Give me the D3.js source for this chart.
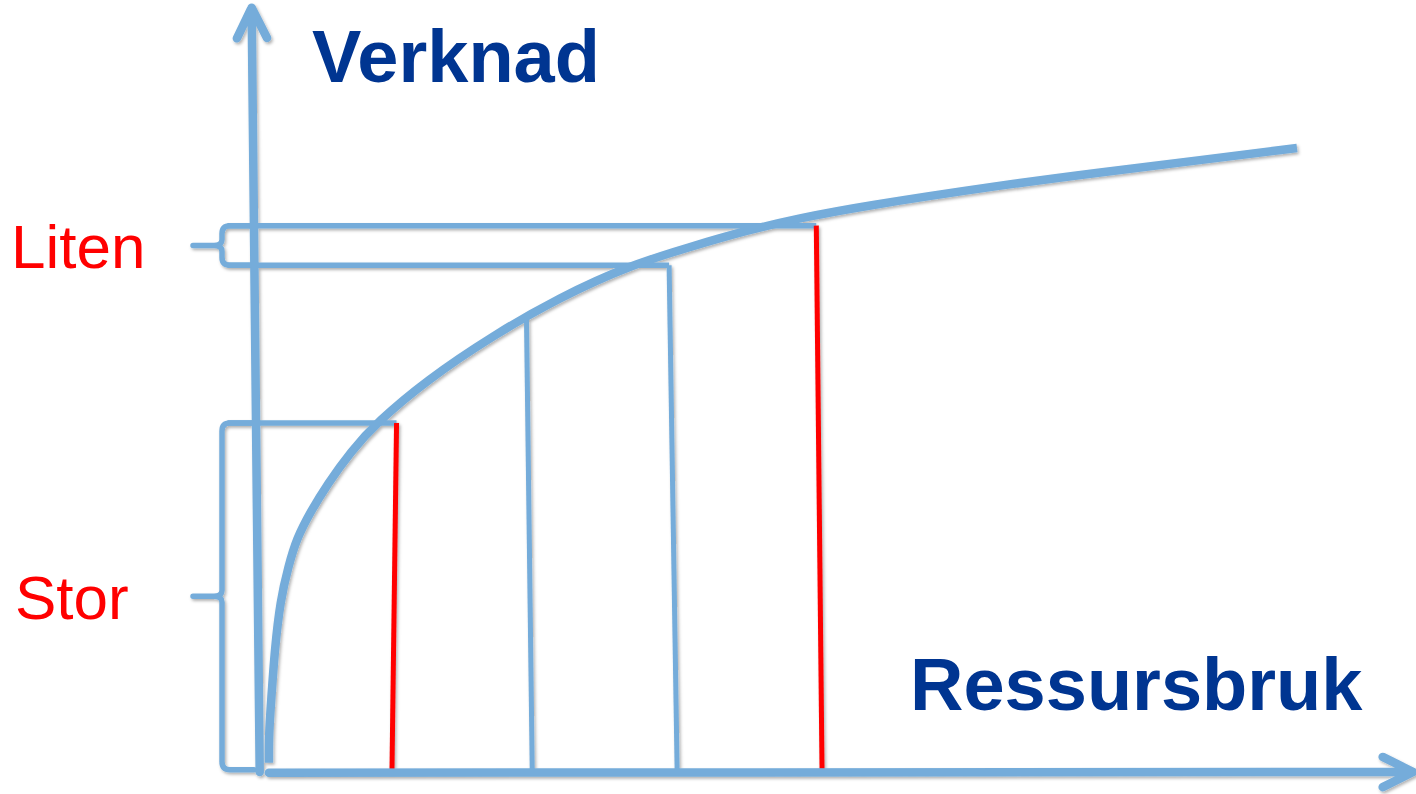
<!DOCTYPE html>
<html>
<head>
<meta charset="utf-8">
<script src="https://cdn.jsdelivr.net/npm/d3@7"></script>
<style>
  html, body { margin: 0; padding: 0; background: #fff; }
  svg { display: block; }
</style>
</head>
<body>
<div id="chart"></div>
<script>
// data (resource use on x, effect on y, both 0..10)
var curveX = [0.06, 0.06, 0.08, 0.11, 0.16, 0.23, 0.30, 0.42, 0.57, 0.77, 1.00, 1.43, 2.01, 2.59, 3.20, 3.72, 4.22, 4.68, 5.20, 6.42, 7.29, 8.16, 9.00];
var curveY = [0.12, 0.50, 0.94, 1.60, 2.26, 2.70, 3.06, 3.41, 3.78, 4.20, 4.59, 5.14, 5.73, 6.23, 6.65, 6.89, 7.11, 7.27, 7.42, 7.70, 7.87, 8.03, 8.19];

// drop lines: x at top, x at bottom, y at top
var dropName = ["a", "b", "c", "d"];
var dropXTop = [1.17, 2.30, 3.54, 4.82];
var dropXBot = [1.13, 2.35, 3.61, 4.87];
var dropYTop = [4.58, 5.93, 6.65, 7.17];
var dropRed  = [true, false, false, true];

// horizontal guides: y level, ends at drop line index
var guideY = [7.17, 6.65, 4.58];
var guideTo = [3, 2, 0];

// braces on the effect axis
var braceLabel = ["Liten", "Stor"];
var braceLow = [6.65, 0.03];
var braceHigh = [7.17, 4.58];

// axes (tilted slightly, like the hand drawing)
var yAxisEnds = [[-0.02, 0], [-0.09, 10.03]];
var xAxisEnds = [[0.06, -0.01], [10.01, 0]];

var xTitle = "Ressursbruk";
var yTitle = "Verknad";

(function() {
  "use strict";
  var W = 1416, H = 794;
  var BLUE = "#75acda", RED = "#ff0000", NAVY = "#003591";
  var FONT = "'Liberation Sans', Arial, sans-serif";

  var x = d3.scaleLinear().domain([0, 10]).range([262, 1412]);
  var y = d3.scaleLinear().domain([0, 10]).range([772, 10]);

  var svg = d3.select("#chart").append("svg")
      .attr("width", W)
      .attr("height", H);

  var f = svg.append("defs").append("filter")
      .attr("id", "shadow")
      .attr("x", "-20%").attr("y", "-20%")
      .attr("width", "140%").attr("height", "140%");
  f.append("feDropShadow")
      .attr("dx", 1.5).attr("dy", 2)
      .attr("stdDeviation", 1.4)
      .attr("flood-color", "#000")
      .attr("flood-opacity", 0.3);

  var g = svg.append("g").attr("filter", "url(#shadow)");

  var line = d3.line().x(function(d) { return x(d[0]); }).y(function(d) { return y(d[1]); });

  // guides
  guideY.forEach(function(v, i) {
    g.append("path")
        .attr("d", line([[-0.30, v], [dropXTop[guideTo[i]], v]]))
        .attr("fill", "none")
        .attr("stroke", BLUE)
        .attr("stroke-width", 5.5);
  });

  // drop lines
  dropName.forEach(function(n, i) {
    g.append("path")
        .attr("class", "drop-" + n)
        .attr("d", line([[dropXTop[i], dropYTop[i]], [dropXBot[i], 0]]))
        .attr("fill", "none")
        .attr("stroke", dropRed[i] ? RED : BLUE)
        .attr("stroke-width", 5);
  });

  // braces
  var labelX = [11, 15];
  braceLabel.forEach(function(lbl, i) {
    var y0 = y(braceHigh[i]), y1 = y(braceLow[i]), ym = (y0 + y1) / 2;
    var xr = x(-0.07), xb = 222, xt = 193, r = 8;
    var d = "M" + xr + "," + y0 +
        " L" + (xb + r) + "," + y0 +
        " Q" + xb + "," + y0 + " " + xb + "," + (y0 + r) +
        " L" + xb + "," + (ym - 6) +
        " Q" + xb + "," + ym + " " + (xb - 8) + "," + ym +
        " L" + xt + "," + ym +
        " M" + (xb - 8) + "," + ym +
        " Q" + xb + "," + ym + " " + xb + "," + (ym + 6) +
        " L" + xb + "," + (y1 - r) +
        " Q" + xb + "," + y1 + " " + (xb + r) + "," + y1 +
        " L" + xr + "," + y1;
    g.append("path")
        .attr("d", d)
        .attr("fill", "none")
        .attr("stroke", BLUE)
        .attr("stroke-width", 5.5)
        .attr("stroke-linecap", "round")
        .attr("stroke-linejoin", "round");

    svg.append("text")
        .attr("x", labelX[i])
        .attr("y", ym + 23)
        .attr("font-family", FONT)
        .attr("font-size", 62)
        .attr("fill", RED)
        .text(lbl);
  });

  // curve
  g.append("path")
      .datum(curveX.map(function(v, i) { return [v, curveY[i]]; }))
      .attr("d", d3.line()
          .x(function(d) { return x(d[0]); })
          .y(function(d) { return y(d[1]); })
          .curve(d3.curveBasis))
      .attr("fill", "none")
      .attr("stroke", BLUE)
      .attr("stroke-width", 8.5)
      .attr("stroke-linecap", "butt");

  // axes
  function arrow(ends) {
    var p0 = [x(ends[0][0]), y(ends[0][1])], p1 = [x(ends[1][0]), y(ends[1][1])];
    var a = Math.atan2(p1[1] - p0[1], p1[0] - p0[0]);
    var L = 34, s = 0.46;
    var l = [p1[0] - L * Math.cos(a - s), p1[1] - L * Math.sin(a - s)];
    var rr = [p1[0] - L * Math.cos(a + s), p1[1] - L * Math.sin(a + s)];
    g.append("path")
        .attr("d", "M" + p0 + " L" + p1 + " M" + l + " L" + p1 + " L" + rr)
        .attr("fill", "none")
        .attr("stroke", BLUE)
        .attr("stroke-width", 8.5)
        .attr("stroke-linecap", "round")
        .attr("stroke-linejoin", "round");
  }
  arrow(yAxisEnds);
  arrow(xAxisEnds);

  // titles
  svg.append("text")
      .attr("x", 312)
      .attr("y", 82)
      .attr("font-family", FONT)
      .attr("font-weight", "bold")
      .attr("font-size", 74)
      .attr("fill", NAVY)
      .text(yTitle);

  svg.append("text")
      .attr("x", 910)
      .attr("y", 710)
      .attr("font-family", FONT)
      .attr("font-weight", "bold")
      .attr("font-size", 74)
      .attr("fill", NAVY)
      .text(xTitle);
})();
</script>
</body>
</html>
